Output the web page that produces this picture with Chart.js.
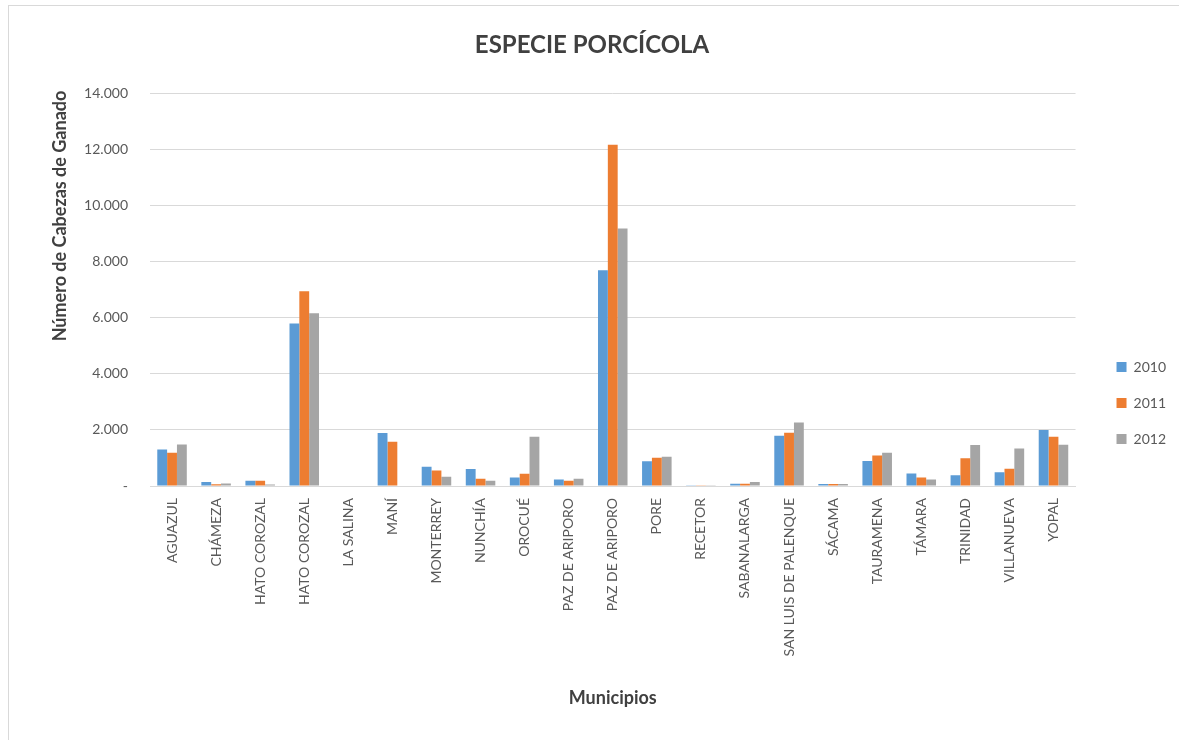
<!DOCTYPE html>
<html>
<head>
<meta charset="utf-8">
<script src="https://cdn.jsdelivr.net/npm/chart.js@4"></script>
<style>
    html, body { margin: 0; padding: 0; background: #fff; overflow: hidden; }
    #wrap { position: relative; width: 1179px; height: 740px; }
    #frame { position: absolute; left: 8px; top: 5px; width: 1200px; height: 760px; border: 1px solid #d9d9d9; box-sizing: border-box; }
    canvas { position: absolute; left: 0; top: 0; }
</style>
</head>
<body>
<div id="wrap">
    <div id="frame"></div>
    <canvas id="porcinoChart" width="1179" height="740"></canvas>
</div>
<script>
// Municipios y cabezas de ganado porcino por año
const municipios = ['AGUAZUL', 'CHÁMEZA', 'HATO COROZAL', 'HATO COROZAL', 'LA SALINA', 'MANÍ', 'MONTERREY',
    'NUNCHÍA', 'OROCUÉ', 'PAZ DE ARIPORO', 'PAZ DE ARIPORO', 'PORE', 'RECETOR', 'SABANALARGA',
    'SAN LUIS DE PALENQUE', 'SÁCAMA', 'TAURAMENA', 'TÁMARA', 'TRINIDAD', 'VILLANUEVA', 'YOPAL'];
const datos2010 = [1300, 140, 190, 5800, 0, 1890, 690, 610, 300, 230, 7700, 880, 30, 80, 1790, 70, 890, 450, 380, 490, 2000];
const datos2011 = [1190, 60, 190, 6950, 0, 1580, 550, 260, 440, 190, 12180, 1010, 10, 80, 1900, 70, 1090, 300, 990, 620, 1760];
const datos2012 = [1480, 85, 50, 6170, 0, 0, 330, 190, 1760, 260, 9190, 1040, 30, 140, 2270, 70, 1190, 230, 1460, 1340, 1470];
const yTicks = [0, 2000, 4000, 6000, 8000, 10000, 12000, 14000];

const colors = {
    y2010: '#5B9BD5',
    y2011: '#ED7D31',
    y2012: '#A5A5A5'
};
const fontFamily = "Lato, 'Open Sans', sans-serif";

// Formato con punto de miles, cero como guion
function formatMiles(value) {
    if (value === 0) return '-';
    return String(value).replace(/\B(?=(\d{3})+(?!\d))/g, '.');
}

// Título vertical del eje Y (Excel lo centra algo más arriba)
const yTitlePlugin = {
    id: 'yTitle',
    afterDraw(chart) {
        const ctx = chart.ctx;
        ctx.save();
        ctx.translate(60, 216);
        ctx.rotate(-Math.PI / 2);
        ctx.font = 'bold 18px ' + fontFamily;
        ctx.fillStyle = '#404040';
        ctx.textAlign = 'center';
        ctx.textBaseline = 'middle';
        ctx.fillText('Número de Cabezas de Ganado', 0, 0);
        ctx.restore();
    }
};

const canvas = document.getElementById('porcinoChart');
new Chart(canvas, {
    type: 'bar',
    data: {
        labels: municipios,
        datasets: [
            { label: '2010', data: datos2010, backgroundColor: colors.y2010 },
            { label: '2011', data: datos2011, backgroundColor: colors.y2011 },
            { label: '2012', data: datos2012, backgroundColor: colors.y2012 }
        ]
    },
    options: {
        responsive: false,
        animation: false,
        datasets: {
            bar: { categoryPercentage: 0.67, barPercentage: 1.0, borderWidth: 0 }
        },
        layout: {
            padding: { left: 8, right: 3, top: 5, bottom: 20 }
        },
        plugins: {
            title: {
                display: true,
                text: 'ESPECIE PORCÍCOLA',
                color: '#404040',
                font: { family: fontFamily, size: 24, weight: 'bold' },
                padding: { top: 26, bottom: 34 }
            },
            legend: {
                position: 'right',
                title: {
                    display: true,
                    text: ' ',
                    font: { size: 10 },
                    padding: { top: 0, bottom: 69 }
                },
                labels: {
                    boxWidth: 10,
                    boxHeight: 10,
                    padding: 22,
                    color: '#595959',
                    font: { family: fontFamily, size: 14 }
                }
            },
            tooltip: { enabled: false }
        },
        scales: {
            x: {
                grid: { display: false, drawTicks: false },
                border: { color: '#d9d9d9', width: 1 },
                ticks: {
                    autoSkip: false,
                    minRotation: 90,
                    maxRotation: 90,
                    padding: 12,
                    color: '#595959',
                    font: { family: fontFamily, size: 14 }
                },
                title: {
                    display: true,
                    text: 'Municipios',
                    color: '#404040',
                    font: { family: fontFamily, size: 18, weight: 'bold' },
                    padding: { top: 0, bottom: 11 }
                },
                afterFit(scale) { scale.height = 234; }
            },
            y: {
                min: 0,
                max: 14000,
                afterBuildTicks(scale) { scale.ticks = yTicks.map(v => ({ value: v })); },
                grid: { color: '#d9d9d9', drawTicks: false },
                border: { display: false },
                ticks: {
                    padding: 22,
                    color: '#595959',
                    font: { family: fontFamily, size: 14 },
                    callback: formatMiles
                },
                afterFit(scale) { scale.width = 142; }
            },
            // espacio vacío entre el área de trazado y la leyenda
            yGap: {
                position: 'right',
                grid: { display: false },
                border: { display: false },
                ticks: { display: false },
                afterFit(scale) { scale.width = 19; }
            }
        }
    },
    plugins: [yTitlePlugin]
});
</script>
</body>
</html>
